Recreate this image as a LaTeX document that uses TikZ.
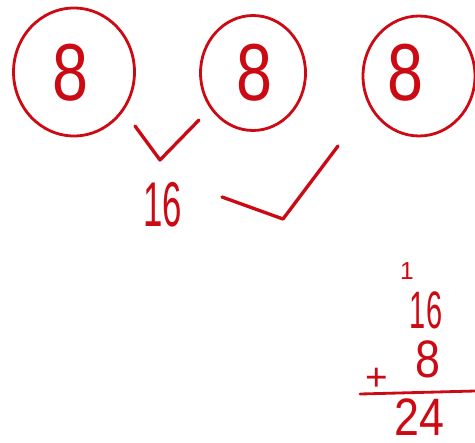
\documentclass[tikz,border=0pt]{standalone}
\usepackage{fontspec}
\setmainfont{Liberation Sans}
\usetikzlibrary{positioning,shapes.geometric}
\definecolor{inkred}{HTML}{CC0A14}

\begin{document}
\begin{tikzpicture}[x=0.02cm, y=-0.02cm,
    ring/.style={draw=inkred, ellipse, line width=1.6pt, inner sep=0pt},
    big/.style={text=inkred, font=\fontsize{46}{46}\selectfont, inner sep=0pt, text height=33pt, text depth=0pt},
    small/.style={text=inkred, font=\fontsize{30}{30}\selectfont, inner sep=0pt, text height=21.5pt, text depth=0pt},
    tick/.style={draw=inkred, line width=1.9pt, line cap=round, line join=round}]
  \useasboundingbox (0,0) rectangle (475,442);
  % the three eights
  \node[ring, minimum width=2.42cm, minimum height=2.56cm] (r1) at (74,72) {};
  \node[ring, minimum width=2.1cm, minimum height=2.3cm] (r2) at (253,73) {};
  \node[ring, minimum width=2.24cm, minimum height=2.4cm] (r3) at (419,76) {};
  \node[big] (e1) at (70,72) {\scalebox{0.8}[1]{8}};
  \node[big] (e2) at (254,72) {\scalebox{0.8}[1]{8}};
  \node[big] (e3) at (405,72) {\scalebox{0.8}[1]{8}};
  % first sum
  \node[small, font=\fontsize{36}{36}\selectfont, text height=26pt] (s1) at (163,204) {\scalebox{0.55}[1]{16}};
  \draw[tick] (135,126) -- (160,160) -- (199,120);
  \draw[tick] (222,197) -- (283,219) -- (338,146);
  % column addition
  \node[small, font=\fontsize{14}{14}\selectfont, text height=10pt] (carry) at (407,271) {1};
  \node[small] (a1) at (426,310) {\scalebox{0.55}[1]{16}};
  \node[small] (a2) at (428,359) {\scalebox{0.85}[1]{8}};
  \node[small, font=\fontsize{22}{22}\selectfont, text height=14pt] (plus) at (377,378) {+};
  \coordinate (barl) at (360,394);
  \coordinate (barr) at (475,391);
  \draw[tick, line width=1.6pt] (barl) -- (barr);
  \node[small] (sum) at (419,417) {\scalebox{0.85}[1]{24}};
\end{tikzpicture}
\end{document}
